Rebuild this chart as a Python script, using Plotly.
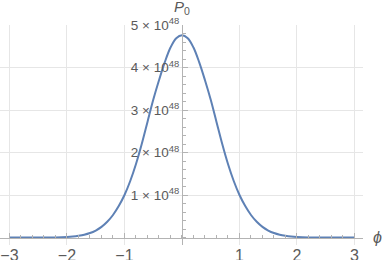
import plotly.graph_objects as go

# phi values and P0 values (in units of 1e48)
phi = [-3.0, -2.5, -2.2, -2.0, -1.9, -1.8, -1.7, -1.6, -1.5, -1.4, -1.3, -1.2, -1.1,
       -1.0, -0.9, -0.8, -0.7, -0.6, -0.5, -0.4, -0.3, -0.2, -0.1, 0.0,
       0.1, 0.2, 0.3, 0.4, 0.5, 0.6, 0.7, 0.8, 0.9, 1.0,
       1.1, 1.2, 1.3, 1.4, 1.5, 1.6, 1.7, 1.8, 1.9, 2.0, 2.2, 2.5, 3.0]
p0_units = [0.0, 0.0003, 0.003, 0.013, 0.023, 0.04, 0.065, 0.105, 0.165, 0.25, 0.37, 0.53, 0.74,
            1.00, 1.33, 1.73, 2.20, 2.72, 3.24, 3.70, 4.12, 4.47, 4.69, 4.76,
            4.69, 4.47, 4.12, 3.70, 3.24, 2.72, 2.20, 1.73, 1.33, 1.00,
            0.74, 0.53, 0.37, 0.25, 0.165, 0.105, 0.065, 0.04, 0.023, 0.013, 0.003, 0.0003, 0.0]
SCALE = 1e48
p0 = [v * SCALE for v in p0_units]

x_ticks = [-3, -2, -1, 1, 2, 3]
y_tick_units = [1, 2, 3, 4, 5]
y_ticks = [v * SCALE for v in y_tick_units]
y_tick_text = [f"{v} × 10<sup>48</sup>" for v in y_tick_units]

x_range = [-3.165, 3.148]
y_range = [-0.176 * SCALE, 5.0 * SCALE]

axis_col = "#b3b3b3"
grid_col = "#e6e6e6"
text_col = "#5a5a5a"
font_fam = "Liberation Sans, Arial, sans-serif"

fig = go.Figure()
fig.add_trace(go.Scatter(x=phi, y=p0, mode="lines",
                         line=dict(color="#5E81B5", width=2, shape="spline", smoothing=1.0),
                         hoverinfo="skip"))

x_zero_pos = (0 - y_range[0]) / (y_range[1] - y_range[0])
y_zero_pos = (0 - x_range[0]) / (x_range[1] - x_range[0])

fig.update_layout(
    width=382, height=260,
    margin=dict(l=0, r=19, t=25, b=15),
    paper_bgcolor="white", plot_bgcolor="white",
    showlegend=False,
    font=dict(family=font_fam, size=13, color=text_col),
    xaxis=dict(range=x_range, anchor="free", position=x_zero_pos,
               tickvals=x_ticks, ticktext=[str(v).replace("-", "−") for v in x_ticks],
               showgrid=True, gridcolor=grid_col, gridwidth=1,
               zeroline=False, showline=True, linecolor=axis_col, linewidth=1,
               ticks="inside", ticklen=5, tickcolor=axis_col,
               minor=dict(dtick=0.2, tick0=0, ticks="inside", ticklen=3, tickcolor=axis_col, showgrid=False),
               ticklabelstandoff=3,
               tickfont=dict(size=16, color=text_col), automargin=False, fixedrange=True),
    yaxis=dict(range=y_range, anchor="free", position=y_zero_pos,
               tickvals=y_ticks, ticktext=y_tick_text,
               showgrid=True, gridcolor=grid_col, gridwidth=1,
               zeroline=False, showline=True, linecolor=axis_col, linewidth=1,
               ticks="inside", ticklen=5, tickcolor=axis_col,
               minor=dict(dtick=0.2 * SCALE, tick0=0, ticks="inside", ticklen=3, tickcolor=axis_col, showgrid=False),
               tickfont=dict(size=13.5, color=text_col), automargin=False, fixedrange=True),
    annotations=[
        dict(x=0, y=1, xref="x", yref="paper", yshift=6, text="<i>P</i><sub>0</sub>",
             showarrow=False, xanchor="center", yanchor="bottom",
             font=dict(size=15, color=text_col, family=font_fam)),
        dict(x=1, y=0, xref="paper", yref="y", xshift=8, text="<i>ϕ</i>",
             showarrow=False, xanchor="left", yanchor="middle",
             font=dict(size=16, color=text_col, family=font_fam)),
    ],
)

fig.write_html("out.html", config={"displayModeBar": False},
               post_script="document.body.style.margin='0';document.body.style.overflow='hidden';")
